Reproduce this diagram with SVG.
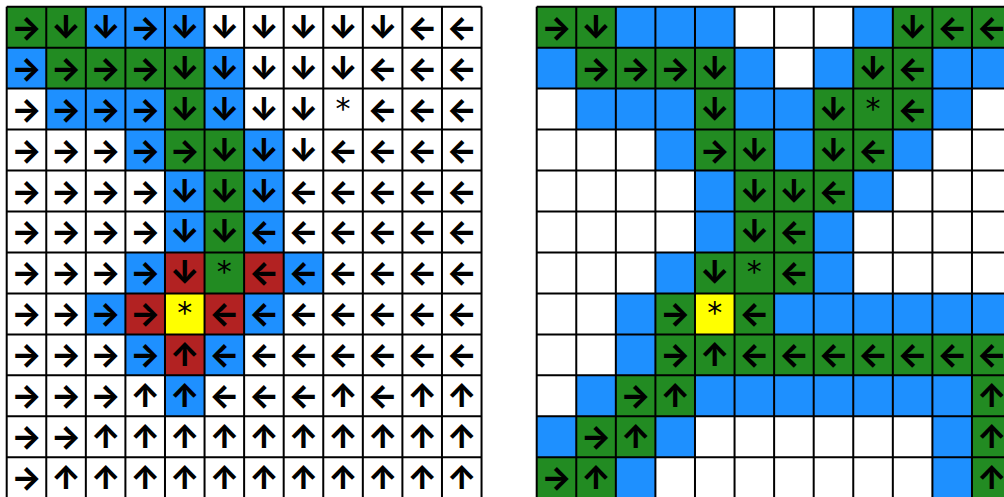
<svg xmlns="http://www.w3.org/2000/svg" width="1004" height="497" viewBox="0 0 1004 497">
<style>
.g{fill:#228B22}.b{fill:#1E90FF}.r{fill:#B22222}.y{fill:#FFFF00}
.ln{stroke:#000;stroke-width:2;fill:none}
text{text-anchor:middle;dominant-baseline:central;fill:#000}
.a text{font-family:Inter,"DejaVu Sans",sans-serif;font-weight:800;font-size:32px}
.s text{font-family:"DejaVu Sans",sans-serif;font-size:30px}
</style>
<rect width="1004" height="497" fill="#fff"/>
<g id="left-grid">
<g id="left-cells">
<rect class="g" x="6.7" y="6.7" width="79.14" height="40.96"/>
<rect class="b" x="85.84" y="6.7" width="118.71" height="40.96"/>
<rect class="b" x="6.7" y="47.66" width="39.57" height="40.96"/>
<rect class="g" x="46.27" y="47.66" width="158.28" height="40.96"/>
<rect class="b" x="204.55" y="47.66" width="39.57" height="40.96"/>
<rect class="b" x="46.27" y="88.62" width="118.71" height="40.96"/>
<rect class="g" x="164.98" y="88.62" width="39.57" height="40.96"/>
<rect class="b" x="204.55" y="88.62" width="39.57" height="40.96"/>
<rect class="b" x="125.41" y="129.58" width="39.57" height="40.96"/>
<rect class="g" x="164.98" y="129.58" width="79.14" height="40.96"/>
<rect class="b" x="244.12" y="129.58" width="39.57" height="40.96"/>
<rect class="b" x="164.98" y="170.54" width="39.57" height="40.96"/>
<rect class="g" x="204.55" y="170.54" width="39.57" height="40.96"/>
<rect class="b" x="244.12" y="170.54" width="39.57" height="40.96"/>
<rect class="b" x="164.98" y="211.5" width="39.57" height="40.96"/>
<rect class="g" x="204.55" y="211.5" width="39.57" height="40.96"/>
<rect class="b" x="244.12" y="211.5" width="39.57" height="40.96"/>
<rect class="b" x="125.41" y="252.46" width="39.57" height="40.96"/>
<rect class="r" x="164.98" y="252.46" width="39.57" height="40.96"/>
<rect class="g" x="204.55" y="252.46" width="39.57" height="40.96"/>
<rect class="r" x="244.12" y="252.46" width="39.57" height="40.96"/>
<rect class="b" x="283.69" y="252.46" width="39.57" height="40.96"/>
<rect class="b" x="85.84" y="293.42" width="39.57" height="40.96"/>
<rect class="r" x="125.41" y="293.42" width="39.57" height="40.96"/>
<rect class="y" x="164.98" y="293.42" width="39.57" height="40.96"/>
<rect class="r" x="204.55" y="293.42" width="39.57" height="40.96"/>
<rect class="b" x="244.12" y="293.42" width="39.57" height="40.96"/>
<rect class="b" x="125.41" y="334.38" width="39.57" height="40.96"/>
<rect class="r" x="164.98" y="334.38" width="39.57" height="40.96"/>
<rect class="b" x="204.55" y="334.38" width="39.57" height="40.96"/>
<rect class="b" x="164.98" y="375.34" width="39.57" height="40.96"/>
</g>
<path class="ln" d="M6.7 6.7V498.22M46.27 6.7V498.22M85.84 6.7V498.22M125.41 6.7V498.22M164.98 6.7V498.22M204.55 6.7V498.22M244.12 6.7V498.22M283.69 6.7V498.22M323.26 6.7V498.22M362.83 6.7V498.22M402.4 6.7V498.22M441.97 6.7V498.22M481.54 6.7V498.22M6.7 6.7H481.54M6.7 47.66H481.54M6.7 88.62H481.54M6.7 129.58H481.54M6.7 170.54H481.54M6.7 211.5H481.54M6.7 252.46H481.54M6.7 293.42H481.54M6.7 334.38H481.54M6.7 375.34H481.54M6.7 416.3H481.54M6.7 457.26H481.54M6.7 498.22H481.54"/>
<g id="left-arrows" class="a">
<text x="26.49" y="27.18">→</text><text x="66.06" y="27.18">↓</text><text x="105.63" y="27.18">↓</text><text x="145.2" y="27.18">→</text><text x="184.77" y="27.18">↓</text><text x="224.34" y="27.18">↓</text><text x="263.91" y="27.18">↓</text><text x="303.48" y="27.18">↓</text><text x="343.05" y="27.18">↓</text><text x="382.62" y="27.18">↓</text><text x="422.19" y="27.18">←</text><text x="461.76" y="27.18">←</text>
<text x="26.49" y="68.14">→</text><text x="66.06" y="68.14">→</text><text x="105.63" y="68.14">→</text><text x="145.2" y="68.14">→</text><text x="184.77" y="68.14">↓</text><text x="224.34" y="68.14">↓</text><text x="263.91" y="68.14">↓</text><text x="303.48" y="68.14">↓</text><text x="343.05" y="68.14">↓</text><text x="382.62" y="68.14">←</text><text x="422.19" y="68.14">←</text><text x="461.76" y="68.14">←</text>
<text x="26.49" y="109.1">→</text><text x="66.06" y="109.1">→</text><text x="105.63" y="109.1">→</text><text x="145.2" y="109.1">→</text><text x="184.77" y="109.1">↓</text><text x="224.34" y="109.1">↓</text><text x="263.91" y="109.1">↓</text><text x="303.48" y="109.1">↓</text><text x="382.62" y="109.1">←</text><text x="422.19" y="109.1">←</text><text x="461.76" y="109.1">←</text>
<text x="26.49" y="150.06">→</text><text x="66.06" y="150.06">→</text><text x="105.63" y="150.06">→</text><text x="145.2" y="150.06">→</text><text x="184.77" y="150.06">→</text><text x="224.34" y="150.06">↓</text><text x="263.91" y="150.06">↓</text><text x="303.48" y="150.06">↓</text><text x="343.05" y="150.06">←</text><text x="382.62" y="150.06">←</text><text x="422.19" y="150.06">←</text><text x="461.76" y="150.06">←</text>
<text x="26.49" y="191.02">→</text><text x="66.06" y="191.02">→</text><text x="105.63" y="191.02">→</text><text x="145.2" y="191.02">→</text><text x="184.77" y="191.02">↓</text><text x="224.34" y="191.02">↓</text><text x="263.91" y="191.02">↓</text><text x="303.48" y="191.02">←</text><text x="343.05" y="191.02">←</text><text x="382.62" y="191.02">←</text><text x="422.19" y="191.02">←</text><text x="461.76" y="191.02">←</text>
<text x="26.49" y="231.98">→</text><text x="66.06" y="231.98">→</text><text x="105.63" y="231.98">→</text><text x="145.2" y="231.98">→</text><text x="184.77" y="231.98">↓</text><text x="224.34" y="231.98">↓</text><text x="263.91" y="231.98">←</text><text x="303.48" y="231.98">←</text><text x="343.05" y="231.98">←</text><text x="382.62" y="231.98">←</text><text x="422.19" y="231.98">←</text><text x="461.76" y="231.98">←</text>
<text x="26.49" y="272.94">→</text><text x="66.06" y="272.94">→</text><text x="105.63" y="272.94">→</text><text x="145.2" y="272.94">→</text><text x="184.77" y="272.94">↓</text><text x="263.91" y="272.94">←</text><text x="303.48" y="272.94">←</text><text x="343.05" y="272.94">←</text><text x="382.62" y="272.94">←</text><text x="422.19" y="272.94">←</text><text x="461.76" y="272.94">←</text>
<text x="26.49" y="313.9">→</text><text x="66.06" y="313.9">→</text><text x="105.63" y="313.9">→</text><text x="145.2" y="313.9">→</text><text x="224.34" y="313.9">←</text><text x="263.91" y="313.9">←</text><text x="303.48" y="313.9">←</text><text x="343.05" y="313.9">←</text><text x="382.62" y="313.9">←</text><text x="422.19" y="313.9">←</text><text x="461.76" y="313.9">←</text>
<text x="26.49" y="354.86">→</text><text x="66.06" y="354.86">→</text><text x="105.63" y="354.86">→</text><text x="145.2" y="354.86">→</text><text x="184.77" y="354.86">↑</text><text x="224.34" y="354.86">←</text><text x="263.91" y="354.86">←</text><text x="303.48" y="354.86">←</text><text x="343.05" y="354.86">←</text><text x="382.62" y="354.86">←</text><text x="422.19" y="354.86">←</text><text x="461.76" y="354.86">←</text>
<text x="26.49" y="395.82">→</text><text x="66.06" y="395.82">→</text><text x="105.63" y="395.82">→</text><text x="145.2" y="395.82">↑</text><text x="184.77" y="395.82">↑</text><text x="224.34" y="395.82">←</text><text x="263.91" y="395.82">←</text><text x="303.48" y="395.82">←</text><text x="343.05" y="395.82">↑</text><text x="382.62" y="395.82">←</text><text x="422.19" y="395.82">↑</text><text x="461.76" y="395.82">↑</text>
<text x="26.49" y="436.78">→</text><text x="66.06" y="436.78">→</text><text x="105.63" y="436.78">↑</text><text x="145.2" y="436.78">↑</text><text x="184.77" y="436.78">↑</text><text x="224.34" y="436.78">↑</text><text x="263.91" y="436.78">↑</text><text x="303.48" y="436.78">↑</text><text x="343.05" y="436.78">↑</text><text x="382.62" y="436.78">↑</text><text x="422.19" y="436.78">↑</text><text x="461.76" y="436.78">↑</text>
<text x="26.49" y="477.74">→</text><text x="66.06" y="477.74">↑</text><text x="105.63" y="477.74">↑</text><text x="145.2" y="477.74">↑</text><text x="184.77" y="477.74">↑</text><text x="224.34" y="477.74">↑</text><text x="263.91" y="477.74">↑</text><text x="303.48" y="477.74">↑</text><text x="343.05" y="477.74">↑</text><text x="382.62" y="477.74">↑</text><text x="422.19" y="477.74">↑</text><text x="461.76" y="477.74">↑</text>
</g>
<g id="left-stars" class="s">
<text x="343.05" y="108.1">*</text><text x="224.34" y="271.94">*</text><text x="184.77" y="312.9">*</text>
</g>
</g>
<g id="right-grid">
<g id="right-cells">
<rect class="g" x="536.7" y="6.7" width="79.14" height="40.96"/>
<rect class="b" x="615.84" y="6.7" width="118.71" height="40.96"/>
<rect class="b" x="853.26" y="6.7" width="39.57" height="40.96"/>
<rect class="g" x="892.83" y="6.7" width="118.71" height="40.96"/>
<rect class="b" x="536.7" y="47.66" width="39.57" height="40.96"/>
<rect class="g" x="576.27" y="47.66" width="158.28" height="40.96"/>
<rect class="b" x="734.55" y="47.66" width="39.57" height="40.96"/>
<rect class="b" x="813.69" y="47.66" width="39.57" height="40.96"/>
<rect class="g" x="853.26" y="47.66" width="79.14" height="40.96"/>
<rect class="b" x="932.4" y="47.66" width="79.14" height="40.96"/>
<rect class="b" x="576.27" y="88.62" width="118.71" height="40.96"/>
<rect class="g" x="694.98" y="88.62" width="39.57" height="40.96"/>
<rect class="b" x="734.55" y="88.62" width="79.14" height="40.96"/>
<rect class="g" x="813.69" y="88.62" width="118.71" height="40.96"/>
<rect class="b" x="932.4" y="88.62" width="39.57" height="40.96"/>
<rect class="b" x="655.41" y="129.58" width="39.57" height="40.96"/>
<rect class="g" x="694.98" y="129.58" width="79.14" height="40.96"/>
<rect class="b" x="774.12" y="129.58" width="39.57" height="40.96"/>
<rect class="g" x="813.69" y="129.58" width="79.14" height="40.96"/>
<rect class="b" x="892.83" y="129.58" width="39.57" height="40.96"/>
<rect class="b" x="694.98" y="170.54" width="39.57" height="40.96"/>
<rect class="g" x="734.55" y="170.54" width="118.71" height="40.96"/>
<rect class="b" x="853.26" y="170.54" width="39.57" height="40.96"/>
<rect class="b" x="694.98" y="211.5" width="39.57" height="40.96"/>
<rect class="g" x="734.55" y="211.5" width="79.14" height="40.96"/>
<rect class="b" x="813.69" y="211.5" width="39.57" height="40.96"/>
<rect class="b" x="655.41" y="252.46" width="39.57" height="40.96"/>
<rect class="g" x="694.98" y="252.46" width="118.71" height="40.96"/>
<rect class="b" x="813.69" y="252.46" width="39.57" height="40.96"/>
<rect class="b" x="615.84" y="293.42" width="39.57" height="40.96"/>
<rect class="g" x="655.41" y="293.42" width="39.57" height="40.96"/>
<rect class="y" x="694.98" y="293.42" width="39.57" height="40.96"/>
<rect class="g" x="734.55" y="293.42" width="39.57" height="40.96"/>
<rect class="b" x="774.12" y="293.42" width="237.42" height="40.96"/>
<rect class="b" x="615.84" y="334.38" width="39.57" height="40.96"/>
<rect class="g" x="655.41" y="334.38" width="356.13" height="40.96"/>
<rect class="b" x="576.27" y="375.34" width="39.57" height="40.96"/>
<rect class="g" x="615.84" y="375.34" width="79.14" height="40.96"/>
<rect class="b" x="694.98" y="375.34" width="276.99" height="40.96"/>
<rect class="g" x="971.97" y="375.34" width="39.57" height="40.96"/>
<rect class="b" x="536.7" y="416.3" width="39.57" height="40.96"/>
<rect class="g" x="576.27" y="416.3" width="79.14" height="40.96"/>
<rect class="b" x="655.41" y="416.3" width="39.57" height="40.96"/>
<rect class="b" x="932.4" y="416.3" width="39.57" height="40.96"/>
<rect class="g" x="971.97" y="416.3" width="39.57" height="40.96"/>
<rect class="g" x="536.7" y="457.26" width="79.14" height="40.96"/>
<rect class="b" x="615.84" y="457.26" width="39.57" height="40.96"/>
<rect class="b" x="932.4" y="457.26" width="39.57" height="40.96"/>
<rect class="g" x="971.97" y="457.26" width="39.57" height="40.96"/>
</g>
<path class="ln" d="M536.7 6.7V498.22M576.27 6.7V498.22M615.84 6.7V498.22M655.41 6.7V498.22M694.98 6.7V498.22M734.55 6.7V498.22M774.12 6.7V498.22M813.69 6.7V498.22M853.26 6.7V498.22M892.83 6.7V498.22M932.4 6.7V498.22M971.97 6.7V498.22M1011.54 6.7V498.22M536.7 6.7H1011.54M536.7 47.66H1011.54M536.7 88.62H1011.54M536.7 129.58H1011.54M536.7 170.54H1011.54M536.7 211.5H1011.54M536.7 252.46H1011.54M536.7 293.42H1011.54M536.7 334.38H1011.54M536.7 375.34H1011.54M536.7 416.3H1011.54M536.7 457.26H1011.54M536.7 498.22H1011.54"/>
<g id="right-arrows" class="a">
<text x="556.49" y="27.18">→</text><text x="596.06" y="27.18">↓</text><text x="912.62" y="27.18">↓</text><text x="952.19" y="27.18">←</text><text x="991.76" y="27.18">←</text>
<text x="596.06" y="68.14">→</text><text x="635.63" y="68.14">→</text><text x="675.2" y="68.14">→</text><text x="714.77" y="68.14">↓</text><text x="873.05" y="68.14">↓</text><text x="912.62" y="68.14">←</text>
<text x="714.77" y="109.1">↓</text><text x="833.48" y="109.1">↓</text><text x="912.62" y="109.1">←</text>
<text x="714.77" y="150.06">→</text><text x="754.34" y="150.06">↓</text><text x="833.48" y="150.06">↓</text><text x="873.05" y="150.06">←</text>
<text x="754.34" y="191.02">↓</text><text x="793.91" y="191.02">↓</text><text x="833.48" y="191.02">←</text>
<text x="754.34" y="231.98">↓</text><text x="793.91" y="231.98">←</text>
<text x="714.77" y="272.94">↓</text><text x="793.91" y="272.94">←</text>
<text x="675.2" y="313.9">→</text><text x="754.34" y="313.9">←</text>
<text x="675.2" y="354.86">→</text><text x="714.77" y="354.86">↑</text><text x="754.34" y="354.86">←</text><text x="793.91" y="354.86">←</text><text x="833.48" y="354.86">←</text><text x="873.05" y="354.86">←</text><text x="912.62" y="354.86">←</text><text x="952.19" y="354.86">←</text><text x="991.76" y="354.86">←</text>
<text x="635.63" y="395.82">→</text><text x="675.2" y="395.82">↑</text><text x="991.76" y="395.82">↑</text>
<text x="596.06" y="436.78">→</text><text x="635.63" y="436.78">↑</text><text x="991.76" y="436.78">↑</text>
<text x="556.49" y="477.74">→</text><text x="596.06" y="477.74">↑</text><text x="991.76" y="477.74">↑</text>
</g>
<g id="right-stars" class="s">
<text x="873.05" y="108.1">*</text><text x="754.34" y="271.94">*</text><text x="714.77" y="312.9">*</text>
</g>
</g>
</svg>
